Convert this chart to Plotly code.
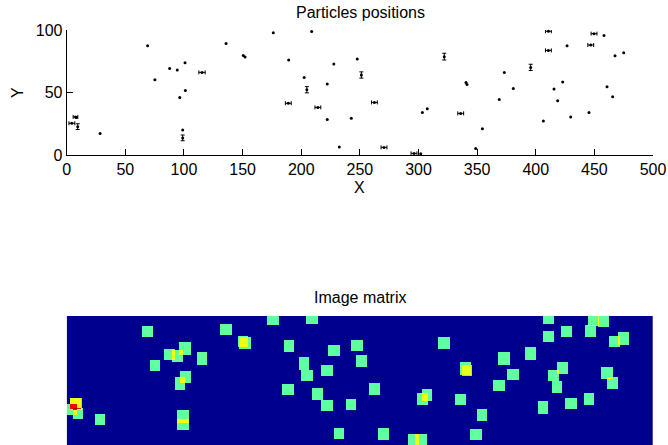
import numpy as np
import plotly.graph_objects as go

# Particle positions (X, Y) and their error bars (0 = no visible bar)
pos_x = [4.4, 7.5, 8.2, 9.4, 28.5, 69.0, 75.2, 87.8, 94.3, 100.9, 101.2, 96.4, 98.9, 98.9,
         115.4, 135.9, 150.6, 152.1, 176.2, 189.3, 189.0, 202.5, 204.8, 208.9, 214.2, 222.2,
         222.2, 227.8, 232.5, 242.7, 247.8, 251.3, 262.4, 270.6, 296.2, 301.9, 303.3,
         307.5, 322.0, 340.5, 341.4, 336.0, 348.8, 354.5, 368.9, 373.2, 380.9, 395.7, 406.5,
         410.8, 410.8, 415.6, 418.7, 423.0, 426.7, 429.8, 445.4, 446.9, 449.7, 458.2, 460.8,
         465.6, 467.6, 475.0]
pos_y = [25.4, 30.5, 30.0, 22.7, 17.3, 87.5, 60.2, 69.3, 68.0, 73.9, 51.7, 46.1, 20.0, 13.7,
         66.1, 89.3, 79.7, 78.4, 97.9, 76.0, 41.4, 62.1, 52.2, 98.8, 38.1, 56.8,
         28.5, 72.8, 6.5, 29.4, 76.8, 64.0, 42.1, 6.1, 1.3, 1.0, 34.1,
         37.1, 78.7, 58.1, 56.5, 33.3, 5.3, 21.1, 44.5, 66.1, 53.3, 70.1, 27.2,
         99.0, 83.7, 52.8, 43.5, 58.4, 87.5, 30.4, 34.1, 88.0, 97.1, 95.7, 54.7,
         46.7, 79.5, 81.9]
err_x = [2.5, 2.0, 0, 0, 0, 0, 0, 0, 0, 0, 0, 0, 0, 0,
         2.7, 0, 0, 0, 0, 0, 2.5, 0, 0, 0, 2.5, 0,
         0, 0, 0, 0, 0, 0, 2.5, 2.5, 2.5, 0, 0,
         0, 0, 0, 0, 2.5, 0, 0, 0, 0, 0, 0, 0,
         2.5, 2.5, 0, 0, 0, 0, 0, 0, 2.5, 2.5, 0, 0,
         0, 0, 0]
err_y = [0, 0, 0, 2.3, 0, 0, 0, 0, 0, 0, 0, 0, 0, 2.3,
         0, 0, 0, 0, 0, 0, 0, 0, 2.5, 0, 0, 0,
         0, 0, 0, 0, 0, 2.5, 0, 0, 0, 0, 0,
         0, 2.7, 0, 0, 0, 0, 0, 0, 0, 0, 2.5, 0,
         0, 0, 0, 0, 0, 0, 0, 0, 0, 0, 0, 0,
         0, 0, 0]

x_ticks = [0, 50, 100, 150, 200, 250, 300, 350, 400, 450, 500]
y_ticks = [0, 50, 100]

W, H = 668, 445
FONT = "Liberation Sans"

def fx(p):
    return p / W

def fy(p):
    return 1 - p / H

px = np.array(pos_x)
py = np.array(pos_y)
ex = np.array(err_x)
ey = np.array(err_y)

fig = go.Figure()

m_plain = (ex == 0) & (ey == 0)
m_ex = ex > 0
m_ey = ey > 0
marker = dict(color="black", size=3)
fig.add_trace(go.Scatter(x=px[m_plain], y=py[m_plain], mode="markers", marker=marker,
                         xaxis="x", yaxis="y", showlegend=False, cliponaxis=False))
fig.add_trace(go.Scatter(x=px[m_ex], y=py[m_ex], mode="markers", marker=marker,
                         error_x=dict(type="data", array=ex[m_ex], symmetric=True,
                                      color="black", thickness=1, width=2),
                         xaxis="x", yaxis="y", showlegend=False, cliponaxis=False))
fig.add_trace(go.Scatter(x=px[m_ey], y=py[m_ey], mode="markers", marker=marker,
                         error_y=dict(type="data", array=ey[m_ey], symmetric=True,
                                      color="black", thickness=1, width=2),
                         xaxis="x", yaxis="y", showlegend=False, cliponaxis=False))

# Image matrix: each particle stamps a square footprint on a 1-unit grid
gx = np.arange(0, 500) + 0.5
gy = np.arange(-6, 100) + 0.5
GX, GY = np.meshgrid(gx, gy)
half = 4.7
Z = np.zeros_like(GX)
for xx, yy in zip(pos_x, pos_y):
    Z += ((np.abs(GX - xx) < half) & (np.abs(GY - yy) < half)).astype(float)

bg = "rgb(0,0,143)"
c1 = "rgb(96,255,159)"
c2 = "rgb(239,255,16)"
c3 = "rgb(255,0,0)"
c4 = "rgb(150,0,0)"
cscale = [[0, bg], [0.2, bg], [0.2, c1], [0.4, c1], [0.4, c2], [0.6, c2],
          [0.6, c3], [0.8, c3], [0.8, c4], [1, c4]]
fig.add_trace(go.Heatmap(z=Z, x0=0.5, dx=1, y0=-5.5, dy=1, colorscale=cscale,
                         zmin=-0.5, zmax=4.5, showscale=False, xaxis="x2", yaxis="y2",
                         hoverinfo="skip"))

axis_common = dict(showline=True, linecolor="black", linewidth=1, mirror=False,
                   ticks="inside", ticklen=6, tickcolor="black", tickwidth=1,
                   showgrid=False, zeroline=False, automargin=False,
                   tickfont=dict(family=FONT, size=16, color="black"))

xdom = [fx(66.7), fx(653)]
fig.update_layout(
    width=W, height=H,
    margin=dict(l=0, r=0, t=0, b=0, autoexpand=False),
    paper_bgcolor="white", plot_bgcolor="white",
    xaxis=dict(domain=xdom, range=[0, 500], tickvals=x_ticks, anchor="y", **axis_common),
    yaxis=dict(domain=[fy(155), fy(30)], range=[0, 100], tickvals=y_ticks, anchor="x",
               **axis_common),
    xaxis2=dict(domain=xdom, range=[0, 500], visible=False, anchor="y2", automargin=False),
    yaxis2=dict(domain=[0, fy(316)], range=[-3.2, 100], visible=False, anchor="x2",
                automargin=False),
    annotations=[
        dict(text="Particles positions", x=fx(360), y=fy(12), xref="paper", yref="paper",
             xanchor="center", yanchor="middle", showarrow=False,
             font=dict(family=FONT, size=16, color="black")),
        dict(text="X", x=fx(359), y=fy(188), xref="paper", yref="paper",
             xanchor="center", yanchor="middle", showarrow=False,
             font=dict(family=FONT, size=16, color="black")),
        dict(text="Y", x=fx(17), y=fy(93), xref="paper", yref="paper",
             xanchor="center", yanchor="middle", showarrow=False, textangle=-90,
             font=dict(family=FONT, size=16, color="black")),
        dict(text="Image matrix", x=fx(360), y=fy(297), xref="paper", yref="paper",
             xanchor="center", yanchor="middle", showarrow=False,
             font=dict(family=FONT, size=16, color="black")),
    ],
)

fig.write_html("out.html", config={"displayModeBar": False},
               post_script="document.body.style.margin='0';document.body.style.overflow='hidden';")
